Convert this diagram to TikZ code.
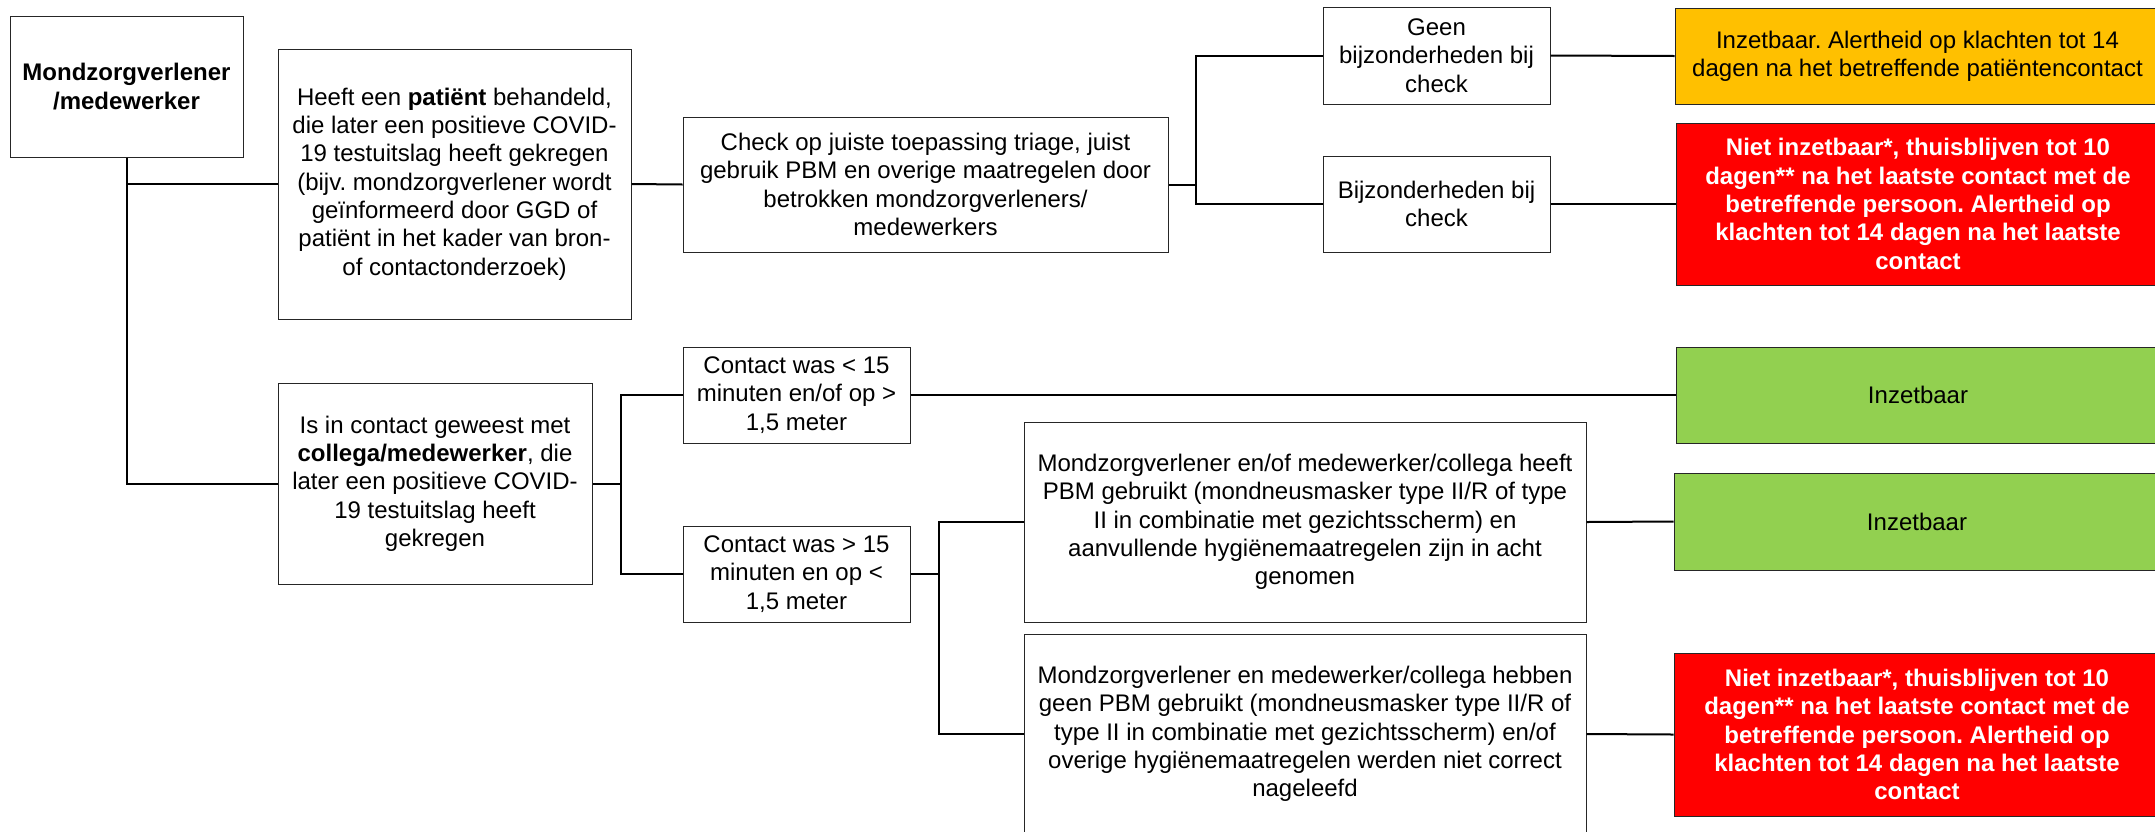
\documentclass[tikz,border=0pt]{standalone}
\usepackage{fontspec}
\setmainfont{Liberation Sans}
\frenchspacing
\definecolor{cyellow}{HTML}{FFC000}
\definecolor{cred}{HTML}{FF0000}
\definecolor{cgreen}{HTML}{92D050}
\tikzset{
  box/.style={draw=black!85, line width=0.5pt, align=center, inner sep=0pt,
    font={\fontsize{12}{14.15}\selectfont}},
  yellowbox/.style={box, fill=cyellow},
  redbox/.style={box, fill=cred, text=white, font={\fontsize{12}{14.15}\selectfont\bfseries}},
  greenbox/.style={box, fill=cgreen},
  conn/.style={draw=black, line width=1pt}
}
\begin{document}
\begin{tikzpicture}[x=0.5pt, y=-0.5pt]
\useasboundingbox (0,0) rectangle (2155,831);
\clip (0,0) rectangle (2155,831);
\fill[white] (0,0) rectangle (2155,831);

\node[box, minimum width=116.5pt, minimum height=70.5pt] (root) at (126.5,86.5)
  {\textbf{Mondzorgverlener}\\\textbf{/medewerker}};
\node[box, minimum width=176.5pt, minimum height=135pt] (patient) at (454.5,184)
  {Heeft een \textbf{patiënt} behandeld,\\die later een positieve COVID-\\19 testuitslag heeft gekregen\\(bijv. mondzorgverlener wordt\\geïnformeerd door GGD of\\patiënt in het kader van bron-\\of contactonderzoek)};
\node[box, minimum width=242.5pt, minimum height=67.5pt] (check) at (925.5,184.5)
  {Check op juiste toepassing triage, juist\\gebruik PBM en overige maatregelen door\\betrokken mondzorgverleners/\\medewerkers};
\node[box, minimum width=113.5pt, minimum height=48.5pt] (geen) at (1436.5,55.5)
  {Geen\\bijzonderheden bij\\check};
\node[box, minimum width=113.5pt, minimum height=48pt] (bijz) at (1436.5,204)
  {Bijzonderheden bij\\check};
\node[yellowbox, minimum width=242.5pt, minimum height=48pt] (yellow) at (1917.5,56)
  {Inzetbaar. Alertheid op klachten tot 14\\dagen na het betreffende patiëntencontact};
\node[redbox, minimum width=242pt, minimum height=81pt] (red1) at (1918,204)
  {Niet inzetbaar*, thuisblijven tot 10\\dagen** na het laatste contact met de\\betreffende persoon. Alertheid op\\klachten tot 14 dagen na het laatste\\contact};

\node[box, minimum width=157pt, minimum height=100.5pt] (collega) at (435,483.5)
  {Is in contact geweest met\\\textbf{collega/medewerker}, die\\later een positieve COVID-\\19 testuitslag heeft\\gekregen};
\node[box, minimum width=113.5pt, minimum height=48pt] (ca) at (796.5,395)
  {Contact was < 15\\minuten en/of op >\\1,5 meter};
\node[box, minimum width=113.5pt, minimum height=48pt] (cb) at (796.5,574)
  {Contact was > 15\\minuten en op <\\1,5 meter};
\node[greenbox, minimum width=242pt, minimum height=48pt] (green1) at (1918,395)
  {Inzetbaar};
\node[box, minimum width=281pt, minimum height=100pt] (pbma) at (1305,522)
  {Mondzorgverlener en/of medewerker/collega heeft\\PBM gebruikt (mondneusmasker type II/R of type\\II in combinatie met gezichtsscherm) en\\aanvullende hygiënemaatregelen zijn in acht\\genomen};
\node[greenbox, minimum width=243pt, minimum height=48.5pt] (green2) at (1917,521.5)
  {Inzetbaar};
\node[box, minimum width=281pt, minimum height=100pt] (pbmb) at (1305,734)
  {Mondzorgverlener en medewerker/collega hebben\\geen PBM gebruikt (mondneusmasker type II/R of\\type II in combinatie met gezichtsscherm) en/of\\overige hygiënemaatregelen werden niet correct\\nageleefd};
\node[redbox, minimum width=243pt, minimum height=81.5pt] (red2) at (1917,734.5)
  {Niet inzetbaar*, thuisblijven tot 10\\dagen** na het laatste contact met de\\betreffende persoon. Alertheid op\\klachten tot 14 dagen na het laatste\\contact};

\coordinate (b1) at (1195.5,184.5);
\coordinate (b2) at (620.5,483.5);
\coordinate (b3) at (939,574);

\draw[conn] (root.south) |- (patient.west);
\draw[conn] (root.south) |- (collega.west);
\draw[conn] (patient.east) -- (check.west);
\draw[conn] (check.east) -- (b1) |- (geen.west);
\draw[conn] (b1) |- (bijz.west);
\draw[conn] (geen.east) -- (yellow.west);
\draw[conn] (bijz.east) -- (red1.west);
\draw[conn] (collega.east) -- (b2) |- (ca.west);
\draw[conn] (b2) |- (cb.west);
\draw[conn] (ca.east) -- (green1.west);
\draw[conn] (cb.east) -- (b3) |- (pbma.west);
\draw[conn] (b3) |- (pbmb.west);
\draw[conn] (pbma.east) -- (green2.west);
\draw[conn] (pbmb.east) -- (red2.west);
\end{tikzpicture}
\end{document}
